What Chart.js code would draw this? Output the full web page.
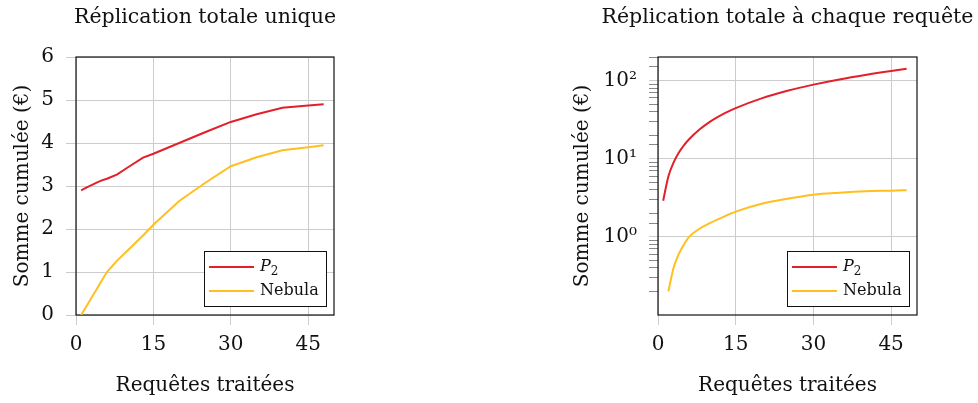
<!DOCTYPE html>
<html>
<head>
<meta charset="utf-8">
<script src="https://cdn.jsdelivr.net/npm/chart.js@4"></script>
<style>
  html, body { margin: 0; padding: 0; background: #fff; overflow: hidden; }
  #wrap { position: relative; width: 978px; height: 403px; }
  canvas { position: absolute; top: 0; }
</style>
</head>
<body>
<div id="wrap">
  <canvas id="gauche" width="489" height="403" style="left:0"></canvas>
  <canvas id="droite" width="489" height="403" style="left:489px"></canvas>
</div>
<script>
// donnees
const requetes = [1, 2, 3, 4, 5, 6, 8, 10, 13, 15, 20, 25, 30, 35, 40, 45, 48];
const p2Unique = [2.9, 2.96, 3.02, 3.08, 3.13, 3.17, 3.27, 3.43, 3.66, 3.75, 4.0, 4.25, 4.49, 4.67, 4.82, 4.87, 4.9];
const nebula = [0, 0.2, 0.4, 0.6, 0.8, 1.0, 1.27, 1.5, 1.85, 2.1, 2.65, 3.07, 3.46, 3.67, 3.83, 3.9, 3.95];
const p2Chaque = [2.9, 5.9, 8.9, 11.9, 14.8, 17.7, 23.6, 29.6, 38.5, 44.4, 59.1, 73.9, 88.6, 103.3, 117.9, 132.5, 141.2];
const xTicks = [0, 15, 30, 45];
const yTicksLin = [0, 1, 2, 3, 4, 5, 6];

const ROUGE = "#e3202a";
const JAUNE = "#ffbf1f";
const GRILLE = "#cccccc";
const POLICE = "'DejaVu Serif', serif";

// titre, cadre noir + legende dans le coin en bas a droite
const cadreLegende = {
  id: "cadreLegende",
  beforeDatasetsDraw(chart) {
    const { ctx, chartArea: a } = chart;
    ctx.save();
    ctx.strokeStyle = "#111";
    ctx.lineWidth = 1.2;
    ctx.strokeRect(a.left, a.top, a.right - a.left, a.bottom - a.top);
    ctx.restore();
  },
  afterDraw(chart, args, opts) {
    const { ctx, chartArea: a } = chart;
    ctx.save();
    // titre du graphe
    ctx.fillStyle = "#111";
    ctx.font = "20.5px " + POLICE;
    ctx.textAlign = "center";
    ctx.textBaseline = "alphabetic";
    ctx.fillText(opts.titre, (a.left + a.right) / 2, 23);
    ctx.textAlign = "left";

    const w = 122, h = 55;
    const x = a.right - 8 - w, y = a.bottom - 9 - h;
    ctx.fillStyle = "#fff";
    ctx.fillRect(x, y, w, h);
    ctx.strokeStyle = "#111";
    ctx.lineWidth = 1;
    ctx.strokeRect(x + 0.5, y + 0.5, w, h);
    chart.data.datasets.forEach((ds, i) => {
      const ly = y + 16 + i * 24;
      ctx.strokeStyle = ds.borderColor;
      ctx.lineWidth = 2;
      ctx.beginPath();
      ctx.moveTo(x + 5, ly);
      ctx.lineTo(x + 50, ly);
      ctx.stroke();
      ctx.fillStyle = "#111";
      ctx.textBaseline = "middle";
      const m = ds.label.match(/^(\w)_(\w)$/);
      if (m) {
        ctx.font = "italic 16px " + POLICE;
        ctx.fillText(m[1], x + 56, ly);
        const pw = ctx.measureText(m[1]).width;
        ctx.font = "12px " + POLICE;
        ctx.fillText(m[2], x + 56 + pw, ly + 5);
      } else {
        ctx.font = "16px " + POLICE;
        ctx.fillText(ds.label, x + 56, ly);
      }
    });
    ctx.restore();
  }
};

function axeX() {
  return {
    type: "linear",
    min: 0,
    max: 50,
    afterBuildTicks: s => { s.ticks = xTicks.map(v => ({ value: v })); },
    afterFit: s => { s.height = 88; },
    ticks: { color: "#111", font: { family: POLICE, size: 20 }, padding: 8, maxRotation: 0 },
    grid: { color: GRILLE, tickColor: GRILLE, tickLength: 10, lineWidth: 1 },
    border: { display: false },
    title: { display: true, text: "Requêtes traitées", color: "#111", font: { family: POLICE, size: 20 }, padding: { top: 0, bottom: 5 } }
  };
}

Chart.defaults.animation = false;

new Chart(document.getElementById("gauche"), {
  type: "line",
  data: {
    datasets: [
      { label: "P_2", data: requetes.map((x, i) => ({ x, y: p2Unique[i] })), borderColor: ROUGE, borderWidth: 2, pointRadius: 0, tension: 0 },
      { label: "Nebula", data: requetes.map((x, i) => ({ x, y: nebula[i] })), borderColor: JAUNE, borderWidth: 2, pointRadius: 0, tension: 0 }
    ]
  },
  options: {
    responsive: false,
    layout: { padding: { top: 57, left: 0, right: 155, bottom: 0 } },
    plugins: { legend: { display: false }, tooltip: { enabled: false }, cadreLegende: { titre: "Réplication totale unique" } },
    scales: {
      x: axeX(),
      y: {
        type: "linear",
        min: 0,
        max: 6,
        afterBuildTicks: s => { s.ticks = yTicksLin.map(v => ({ value: v })); },
        afterFit: s => { s.width = 76; },
        ticks: { color: "#111", font: { family: POLICE, size: 20 }, padding: 12 },
        grid: { color: GRILLE, tickColor: GRILLE, tickLength: 10 },
        border: { display: false },
        title: { display: true, text: "Somme cumulée (€)", color: "#111", font: { family: POLICE, size: 20 }, padding: { top: 11, bottom: 0 } }
      }
    }
  },
  plugins: [cadreLegende]
});

const puissance10 = v => Math.abs(Math.log10(v) - Math.round(Math.log10(v))) < 1e-9;
const exposant = { "0": "⁰", "1": "¹", "2": "²" };

new Chart(document.getElementById("droite"), {
  type: "line",
  data: {
    datasets: [
      { label: "P_2", data: requetes.map((x, i) => ({ x, y: p2Chaque[i] })), borderColor: ROUGE, borderWidth: 2, pointRadius: 0, cubicInterpolationMode: "monotone" },
      { label: "Nebula", data: requetes.map((x, i) => ({ x, y: nebula[i] > 0 ? nebula[i] : null })), borderColor: JAUNE, borderWidth: 2, pointRadius: 0, cubicInterpolationMode: "monotone" }
    ]
  },
  options: {
    responsive: false,
    layout: { padding: { top: 57, left: 70, right: 61, bottom: 0 } },
    plugins: { legend: { display: false }, tooltip: { enabled: false }, cadreLegende: { titre: "Réplication totale à chaque requête" } },
    scales: {
      x: axeX(),
      y: {
        type: "logarithmic",
        min: 0.1,
        max: 200,
        afterFit: s => { s.width = 99; },
        ticks: {
          autoSkip: false,
          color: "#111",
          font: { family: POLICE, size: 20 },
          padding: 12,
          callback: v => {
            if (v >= 1 && puissance10(v)) {
              const e = String(Math.round(Math.log10(v)));
              return "10" + exposant[e];
            }
            return "";
          }
        },
        grid: {
          color: c => (c.tick && c.tick.value >= 1 && puissance10(c.tick.value)) ? GRILLE : "rgba(0,0,0,0)",
          tickColor: c => {
            if (!c.tick || c.tick.value < 0.15) return "rgba(0,0,0,0)";
            return puissance10(c.tick.value) ? GRILLE : "#888";
          },
          tickLength: 9
        },
        border: { display: false },
        title: { display: true, text: "Somme cumulée (€)", color: "#111", font: { family: POLICE, size: 20 }, padding: { top: 12, bottom: 0 } }
      }
    }
  },
  plugins: [cadreLegende]
});
</script>
</body>
</html>
